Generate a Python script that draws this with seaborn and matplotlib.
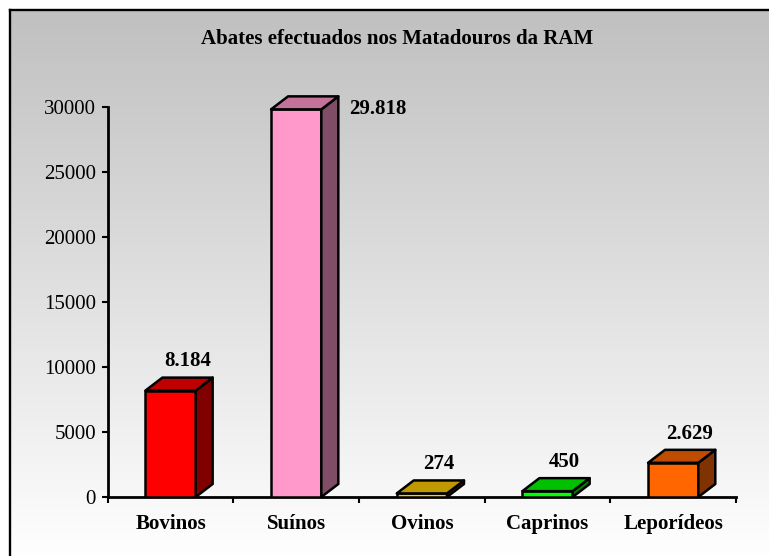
import numpy as np
import pandas as pd
import matplotlib
matplotlib.use("Agg")
import matplotlib.pyplot as plt
import seaborn as sns
from matplotlib.patches import Polygon
from matplotlib.colors import LinearSegmentedColormap

# ---------------- data ----------------
categories = ["Bovinos", "Suínos", "Ovinos", "Caprinos", "Leporídeos"]
values = [8184, 29818, 274, 450, 2629]
value_labels = ["8.184", "29.818", "274", "450", "2.629"]
front_colors = ["#FF0000", "#FF99CC", "#FFCC00", "#00FF00", "#FF6600"]
top_colors = ["#C00000", "#C47299", "#C09900", "#00C000", "#C04C00"]
side_colors = ["#800000", "#804D66", "#806600", "#008000", "#803300"]
y_ticks = [0, 5000, 10000, 15000, 20000, 25000, 30000]
title = "Abates efectuados nos Matadouros da RAM"

# ---------------- style ----------------
sns.set_style("ticks")
plt.rcParams["font.family"] = ["Liberation Serif", "DejaVu Serif"]
plt.rcParams["text.color"] = "black"
plt.rcParams["xtick.color"] = "black"
plt.rcParams["ytick.color"] = "black"
plt.rcParams["xtick.labelcolor"] = "black"
plt.rcParams["ytick.labelcolor"] = "black"

W, H = 769, 556
fig = plt.figure(figsize=(W / 100, H / 100), dpi=100)
fig.patch.set_facecolor("white")

# background gradient + border (figure pixel coordinates)
bg = fig.add_axes([0, 0, 1, 1], zorder=0)
bg.axis("off")
cmap = LinearSegmentedColormap.from_list("bg", ["#C0C0C0", "#FFFFFF"])
grad = np.linspace(0, 1, 256).reshape(-1, 1)
bg.imshow(grad, cmap=cmap, extent=[10, W + 5, H + 5, 9.5], aspect="auto",
          interpolation="bilinear", zorder=0)
bg.plot([10, 10], [H + 5, 9.5], color="black", lw=1.7, solid_capstyle="projecting", zorder=1)
bg.plot([10, W + 5], [9.5, 9.5], color="black", lw=1.7, solid_capstyle="projecting", zorder=1)
bg.set_xlim(0, W)
bg.set_ylim(H, 0)

# main axes
ax_l, ax_b = 107.7 / W, (H - 497) / H
ax_w, ax_h = (736 - 107.7) / W, (497 - 107) / H
ax = fig.add_axes([ax_l, ax_b, ax_w, ax_h], zorder=1)
ax.set_facecolor("none")

df = pd.DataFrame({"cat": categories, "val": values})
bar_w = 0.4
sns.barplot(data=df, x="cat", y="val", hue="cat", palette=front_colors,
            saturation=1, width=bar_w, edgecolor="black", linewidth=1.8,
            legend=False, ax=ax, zorder=3)

ax.set_xlim(-0.5, len(categories) - 0.5)
ax.set_ylim(0, 30000)

# 3D depth in data units (from pixel offsets)
px_per_x = ax_w * W / len(categories)
px_per_y = ax_h * H / 30000
dx = 17 / px_per_x
dy = 13 / px_per_y

for p in list(ax.patches):
    x0 = p.get_x()
    w = p.get_width()
    h = p.get_height()
    i = int(round(x0 + w / 2))
    x1 = x0 + w
    top = Polygon([(x0, h), (x1, h), (x1 + dx, h + dy), (x0 + dx, h + dy)],
                  closed=True, facecolor=top_colors[i], edgecolor="black",
                  linewidth=1.8, joinstyle="round", clip_on=False, zorder=4)
    side = Polygon([(x1, 0), (x1 + dx, dy), (x1 + dx, h + dy), (x1, h)],
                   closed=True, facecolor=side_colors[i], edgecolor="black",
                   linewidth=1.8, joinstyle="round", clip_on=False, zorder=4)
    ax.add_patch(side)
    ax.add_patch(top)

# value labels
for i, (v, lab) in enumerate(zip(values, value_labels)):
    if v > 0.9 * 30000:
        ax.annotate(lab, xy=(i + bar_w / 2 + dx, v), xytext=(7.5, 0),
                    textcoords="offset points", ha="left", va="center",
                    fontsize=15, fontweight="bold", color="black",
                    annotation_clip=False)
    else:
        ax.annotate(lab, xy=(i, v), xytext=(12, 21),
                    textcoords="offset points", ha="center", va="center",
                    fontsize=15, fontweight="bold", color="black",
                    annotation_clip=False)

# axes styling
for s in ["top", "right"]:
    ax.spines[s].set_visible(False)
for s in ["left", "bottom"]:
    ax.spines[s].set_linewidth(2)
    ax.spines[s].set_color("black")

ax.set_yticks(y_ticks)
ax.set_yticklabels([str(t) for t in y_ticks])
ax.tick_params(axis="y", direction="out", length=4, width=1.5, pad=4.5,
               labelsize=15, colors="black")
ax.set_xticks(range(len(categories)))
ax.set_xticklabels(categories, fontweight="bold")
ax.set_xticks(np.arange(-0.5, len(categories), 1.0), minor=True)
ax.tick_params(axis="x", which="major", length=0, pad=12, labelsize=15,
               colors="black")
ax.tick_params(axis="x", which="minor", direction="out", length=4, width=1.5,
               colors="black")
ax.set_xlabel("")
ax.set_ylabel("")

fig.text(397 / W, 1 - 39 / H, title, ha="center", va="center",
         fontsize=15, fontweight="bold", color="black")

fig.savefig("out.png", dpi=100)
